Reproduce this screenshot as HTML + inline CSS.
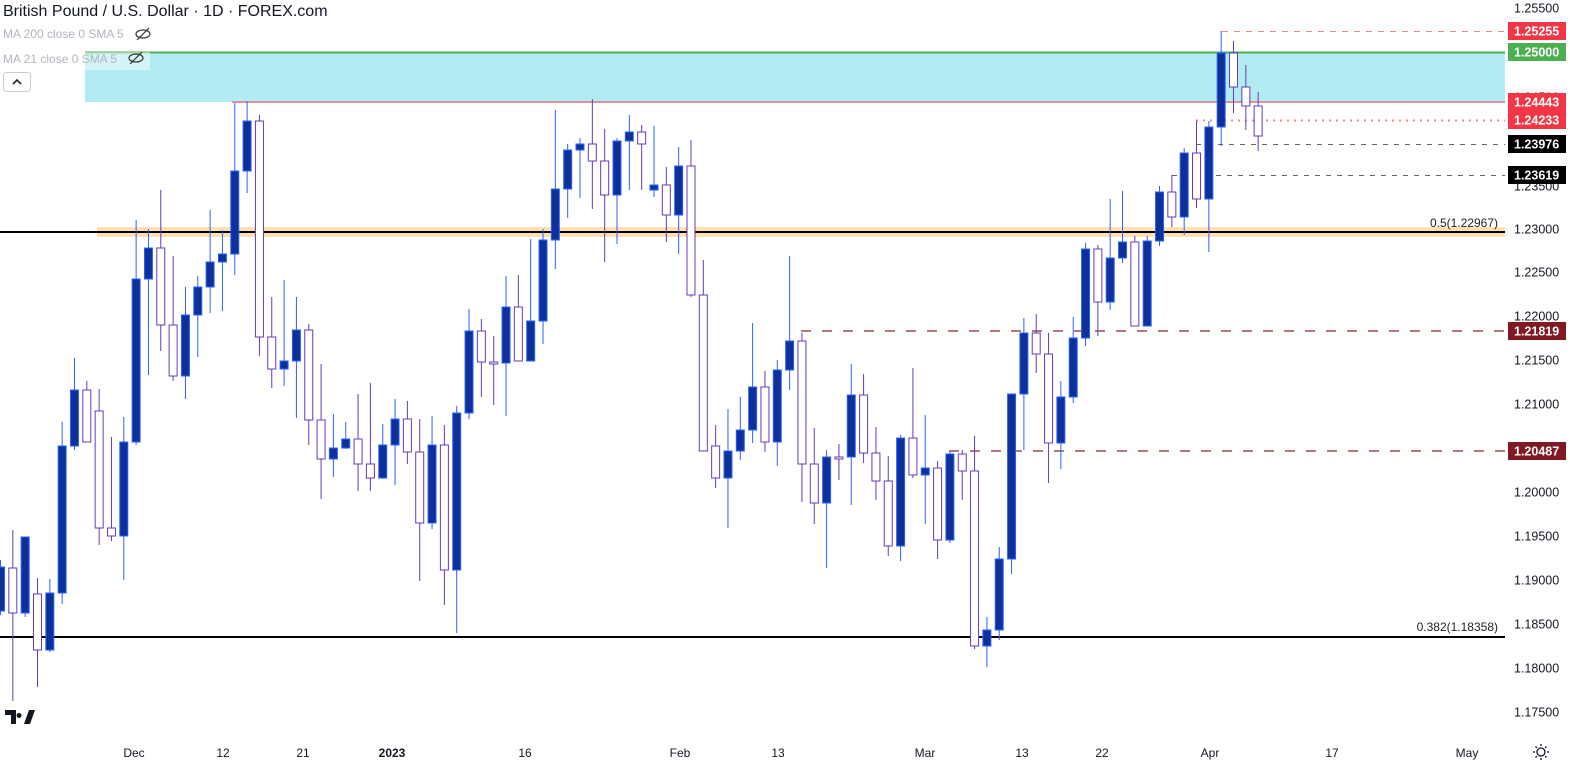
<!DOCTYPE html>
<html><head><meta charset="utf-8"><style>
html,body{margin:0;padding:0;background:#fff;width:1570px;height:764px;overflow:hidden}
svg{display:block;font-family:"Liberation Sans",sans-serif}
</style></head><body>
<svg id="s" width="1570" height="764" xmlns="http://www.w3.org/2000/svg">
<rect x="85" y="52" width="1420" height="50" fill="#b2ebf2"/>
<line x1="85" y1="52.5" x2="1505" y2="52.5" stroke="#4caf50" stroke-width="2"/>
<line x1="232" y1="102" x2="1505" y2="102" stroke="#e091a0" stroke-width="2"/>
<rect x="97" y="227" width="1408" height="10" fill="#ffe0b2"/>
<line x1="0" y1="232" x2="1505" y2="232" stroke="#000" stroke-width="2"/>
<line x1="0" y1="637" x2="1505" y2="637" stroke="#000" stroke-width="2"/>
<line x1="1222" y1="31.5" x2="1505" y2="31.5" stroke="#f08a8a" stroke-width="1" stroke-dasharray="6,6"/>
<line x1="1196" y1="120.5" x2="1505" y2="120.5" stroke="#f08a8a" stroke-width="2" stroke-dasharray="2,5"/>
<line x1="1196" y1="144.5" x2="1505" y2="144.5" stroke="#666" stroke-width="1" stroke-dasharray="5,6"/>
<line x1="1172" y1="175.5" x2="1505" y2="175.5" stroke="#666" stroke-width="1" stroke-dasharray="5,6"/>
<line x1="801" y1="331" x2="1505" y2="331" stroke="#b07a7a" stroke-width="2" stroke-dasharray="10,11"/>
<line x1="949" y1="451" x2="1505" y2="451" stroke="#b07a7a" stroke-width="2" stroke-dasharray="10,11"/>
<text x="1498" y="227" font-size="12" text-anchor="end" fill="#222">0.5(1.22967)</text>
<text x="1498" y="631" font-size="12" text-anchor="end" fill="#222">0.382(1.18358)</text>
<g id="c"></g>
<rect x="0" y="0" width="330" height="22" fill="#fff" opacity="0"/>
<text x="3" y="16" font-size="16" fill="#131722">British Pound / U.S. Dollar · 1D · FOREX.com</text>
<rect x="0" y="52" width="150" height="18" fill="#fff" opacity="0.45"/>
<text x="3" y="38" font-size="12" fill="#b2b5be">MA 200 close 0 SMA 5</text>
<text x="3" y="63" font-size="12" fill="#b2b5be">MA 21 close 0 SMA 5</text>
<g stroke="#333" fill="none" stroke-width="1.2"><ellipse cx="143" cy="34" rx="7" ry="4"/><line x1="137" y1="40" x2="149" y2="28"/><ellipse cx="136" cy="58" rx="7" ry="4"/><line x1="130" y1="64" x2="142" y2="52"/></g>
<rect x="3.5" y="72.5" width="27" height="19" rx="3" fill="#fff" stroke="#ccc"/>
<path d="M13 84 L17 80 L21 84" stroke="#222" stroke-width="1.6" fill="none"/>
<path d="M5 710 H16 V724 H11 V715 H5Z M19 713 a2.5 2.5 0 1 0 0.1 0Z M24 724 L29 710 H35 L30 724Z" fill="#131722"/>
<g font-size="12" fill="#131722" text-anchor="middle">
<text x="134" y="757">Dec</text><text x="223" y="757">12</text><text x="303" y="757">21</text><text x="392" y="757" font-weight="bold">2023</text><text x="525" y="757">16</text><text x="680" y="757">Feb</text><text x="778" y="757">13</text><text x="925" y="757">Mar</text><text x="1022" y="757">13</text><text x="1102" y="757">22</text><text x="1210" y="757">Apr</text><text x="1332" y="757">17</text><text x="1467" y="757">May</text>
</g>
<g fill="none" stroke="#131722" stroke-width="1.3"><circle cx="1541" cy="752" r="4"/><path d="M1541 744v2M1541 758v2M1533 752h2M1547 752h2M1535.5 746.5l1.4 1.4M1545.1 756.1l1.4 1.4M1535.5 757.5l1.4-1.4M1545.1 747.9l1.4-1.4"/></g>
<g id="ax" font-size="12.5"></g>
</svg>
<script>
var d=[
[560,615,567,611,1],[530,701,568,613,0],[537,617,537,613,1],[578,687,594,650,0],[579,652,593,650,1],[422,604,446,593,1],[358,450,390,446,1],[381,442,390,442,0],[389,545,411,528,0],[437,541,528,536,0],
[417,580,442,536,1],[220,445,279,442,1],[229,375,248,279,1],[190,351,248,325,0],[256,381,325,376,0],[287,399,315,376,1],[276,357,287,315,1],[210,313,262,287,1],[230,311,254,262,1],[103,275,171,254,1],
[101,193,121,171,1],[115,356,121,337,0],[297,388,337,369,0],[280,386,361,369,1],[297,418,330,361,1],[324,445,330,420,0],[364,499,420,459,0],[414,477,448,459,1],[422,449,439,448,1],[394,491,439,464,0],
[383,491,464,478,0],[424,479,445,478,1],[399,485,419,445,1],[401,464,419,452,0],[419,581,452,523,0],[416,529,445,523,1],[425,605,445,570,0],[406,633,413,570,1],[309,419,331,413,1],[319,397,331,362,0],
[336,405,362,364,0],[276,416,307,363,1],[275,361,307,361,0],[239,361,321,361,1],[229,344,240,321,1],[110,269,189,240,1],[144,218,150,189,1],[138,198,144,150,1],[99,209,144,161,0],[129,262,161,195,0],
[138,244,141,195,1],[115,190,132,141,1],[125,190,132,144,0],[126,197,185,190,1],[167,242,185,215,0],[147,254,166,215,1],[140,297,166,295,0],[260,451,295,451,0],[425,488,446,478,0],[409,528,451,478,1],
[397,460,430,451,1],[323,443,387,430,1],[371,452,387,442,0],[360,466,370,442,1],[256,390,341,370,1],[333,502,341,464,0],[428,524,464,503,0],[450,568,457,503,1],[444,480,457,458,0],[364,505,395,457,1],
[374,463,395,453,0],[427,500,453,481,0],[456,556,481,546,0],[435,561,438,546,1],[368,478,438,475,0],[415,524,468,475,1],[461,559,468,540,0],[451,543,454,540,1],[450,500,454,471,0],[436,649,471,646,0],
[617,667,630,646,1],[547,640,559,630,1],[394,574,394,559,1],[318,450,333,394,1],[314,373,333,354,0],[333,483,354,443,0],[381,469,397,443,1],[317,403,338,397,1],[243,346,249,338,1],[245,336,249,302,0],
[199,310,258,302,1],[191,263,242,258,1],[236,326,242,326,0],[236,326,241,326,1],[186,246,192,241,1],[175,227,192,217,0],[148,235,153,217,1],[121,208,153,199,0],[121,252,127,199,1],[31,146,53,127,1],
[41,113,53,87,0],[65,130,87,106,0],[92,151,106,136,0]];
var h='';
d.forEach(function(c,i){var x=0.5+12.33*i;var up=c[4];var col=up?'#2962ff':'#673ab7';var fill=up?'#0d3199':'#fff';
var bt=c[2],bb=c[3];if(bb-bt<2)bb=bt+2;
h+='<line x1="'+x+'" y1="'+c[0]+'" x2="'+x+'" y2="'+c[1]+'" stroke="'+col+'" stroke-width="1"/>';
h+='<rect x="'+(x-4)+'" y="'+bt+'" width="8" height="'+(bb-bt)+'" fill="'+fill+'" stroke="'+col+'" stroke-width="1"/>';});
document.getElementById('c').innerHTML=h;
var a='';
var ticks=[[1.255,8],[1.245,97],[1.235,186],[1.23,229],[1.225,272],[1.22,316],[1.215,360],[1.21,404],[1.2,492],[1.195,536],[1.19,580],[1.185,624],[1.18,668],[1.175,712]];
ticks.forEach(function(t){a+='<text x="1514" y="'+(t[1]+4.5)+'" fill="#131722">'+t[0].toFixed(5)+'</text>';});
var boxes=[[31,'1.25255','#f23645'],[52,'1.25000','#4caf50'],[102,'1.24443','#f23645'],[120,'1.24233','#f23645'],[144,'1.23976','#000'],[175,'1.23619','#000'],[331,'1.21819','#801922'],[451,'1.20487','#801922']];
boxes.forEach(function(b){a+='<rect x="1508" y="'+(b[0]-9)+'" width="58" height="18" fill="'+b[2]+'"/><text x="1514" y="'+(b[0]+4.5)+'" fill="#fff" font-weight="bold">'+b[1]+'</text>';});
document.getElementById('ax').innerHTML=a;
</script>
</body></html>
